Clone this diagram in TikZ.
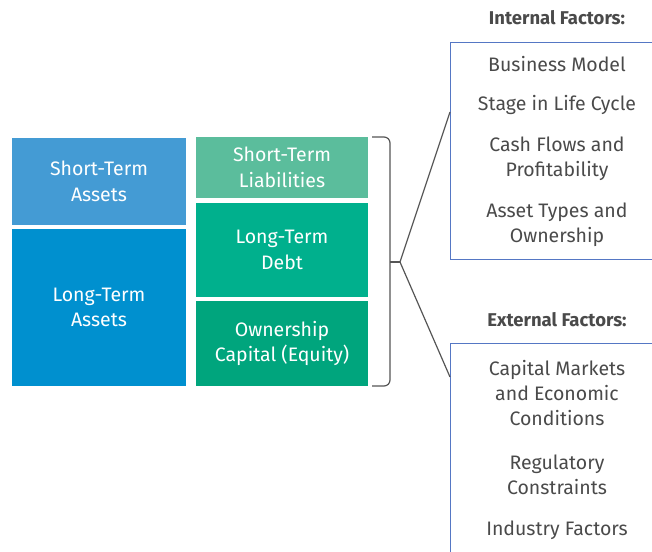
\documentclass[tikz,border=0pt]{standalone}
\usepackage{fontspec}
\setmainfont{Fira Sans}
\usetikzlibrary{calc}
\definecolor{stA}{HTML}{449BD4}
\definecolor{ltA}{HTML}{0090CF}
\definecolor{stL}{HTML}{5BBD9C}
\definecolor{ltD}{HTML}{00B08D}
\definecolor{own}{HTML}{00A57D}
\definecolor{frameblue}{HTML}{5577C4}
\definecolor{txtgray}{HTML}{4A4A4A}
\definecolor{brk}{HTML}{555555}
\tikzset{
  blk/.style={rectangle, inner sep=0pt, text=white, align=center, font=\fontsize{19.5}{25.5}\selectfont},
  item/.style={inner sep=0pt, text=txtgray, align=center, font=\fontsize{19.5}{25}\selectfont},
  ttl/.style={inner sep=0pt, text=txtgray, font=\bfseries\fontsize{18.5}{22}\selectfont},
  frame/.style={draw=frameblue, line width=1pt, rectangle, inner sep=0pt},
  conn/.style={draw=brk, line width=1.2pt},
}
\begin{document}
\begin{tikzpicture}[x=1pt,y=-1pt]
\useasboundingbox (0,0) rectangle (652,551);
\clip (0,0) rectangle (652,551);
% left column
\node[blk, fill=stA, minimum width=174pt, minimum height=87pt] (sta) at (99,181.5) {Short-Term\\Assets};
\node[blk, fill=ltA, minimum width=174pt, minimum height=157pt] (lta) at (99,307.5) {Long-Term\\Assets};
% right column
\node[blk, fill=stL, minimum width=172pt, minimum height=61pt] (stl) at (282,167.5) {Short-Term\\Liabilities};
\node[blk, fill=ltD, minimum width=172pt, minimum height=94pt] (ltd) at (282,250) {Long-Term\\Debt};
\node[blk, fill=own, minimum width=172pt, minimum height=85pt] (oce) at (282,343.5) {Ownership\\Capital (Equity)};
% bracket
\coordinate (bt) at (372,137);
\coordinate (bb) at (372,386);
\coordinate (bm) at (390,262);
\coordinate (tip) at (400,262);
\draw[conn, rounded corners=6pt] (bt) -- (390,137) -- (390,386) -- (bb);
\draw[conn] (bm) -- (tip);
% factor frames
\node[frame, minimum width=260pt, minimum height=217pt, anchor=north west] (ib) at (450,42) {};
\node[frame, minimum width=260pt, minimum height=240pt, anchor=north west] (eb) at (450,343) {};
\draw[conn] (tip) -- ($(ib.north west)+(0,70)$);
\draw[conn] (tip) -- ($(eb.north west)+(0,34)$);
% titles
\node[ttl] (it) at (557,18) {Internal Factors:};
\node[ttl] (et) at (557,320) {External Factors:};
% internal items
\node[item] (i1) at (557,64) {Business Model};
\node[item] (i2) at (557,105) {Stage in Life Cycle};
\node[item] (i3) at (557,158.5) {Cash Flows and\\Profitability};
\node[item] (i4) at (557,225) {Asset Types and\\Ownership};
% external items
\node[item] (e1) at (557,393) {Capital Markets\\and Economic\\Conditions};
\node[item] (e2) at (557,474.5) {Regulatory\\Constraints};
\node[item] (e3) at (557,530) {Industry Factors};
\end{tikzpicture}
\end{document}
